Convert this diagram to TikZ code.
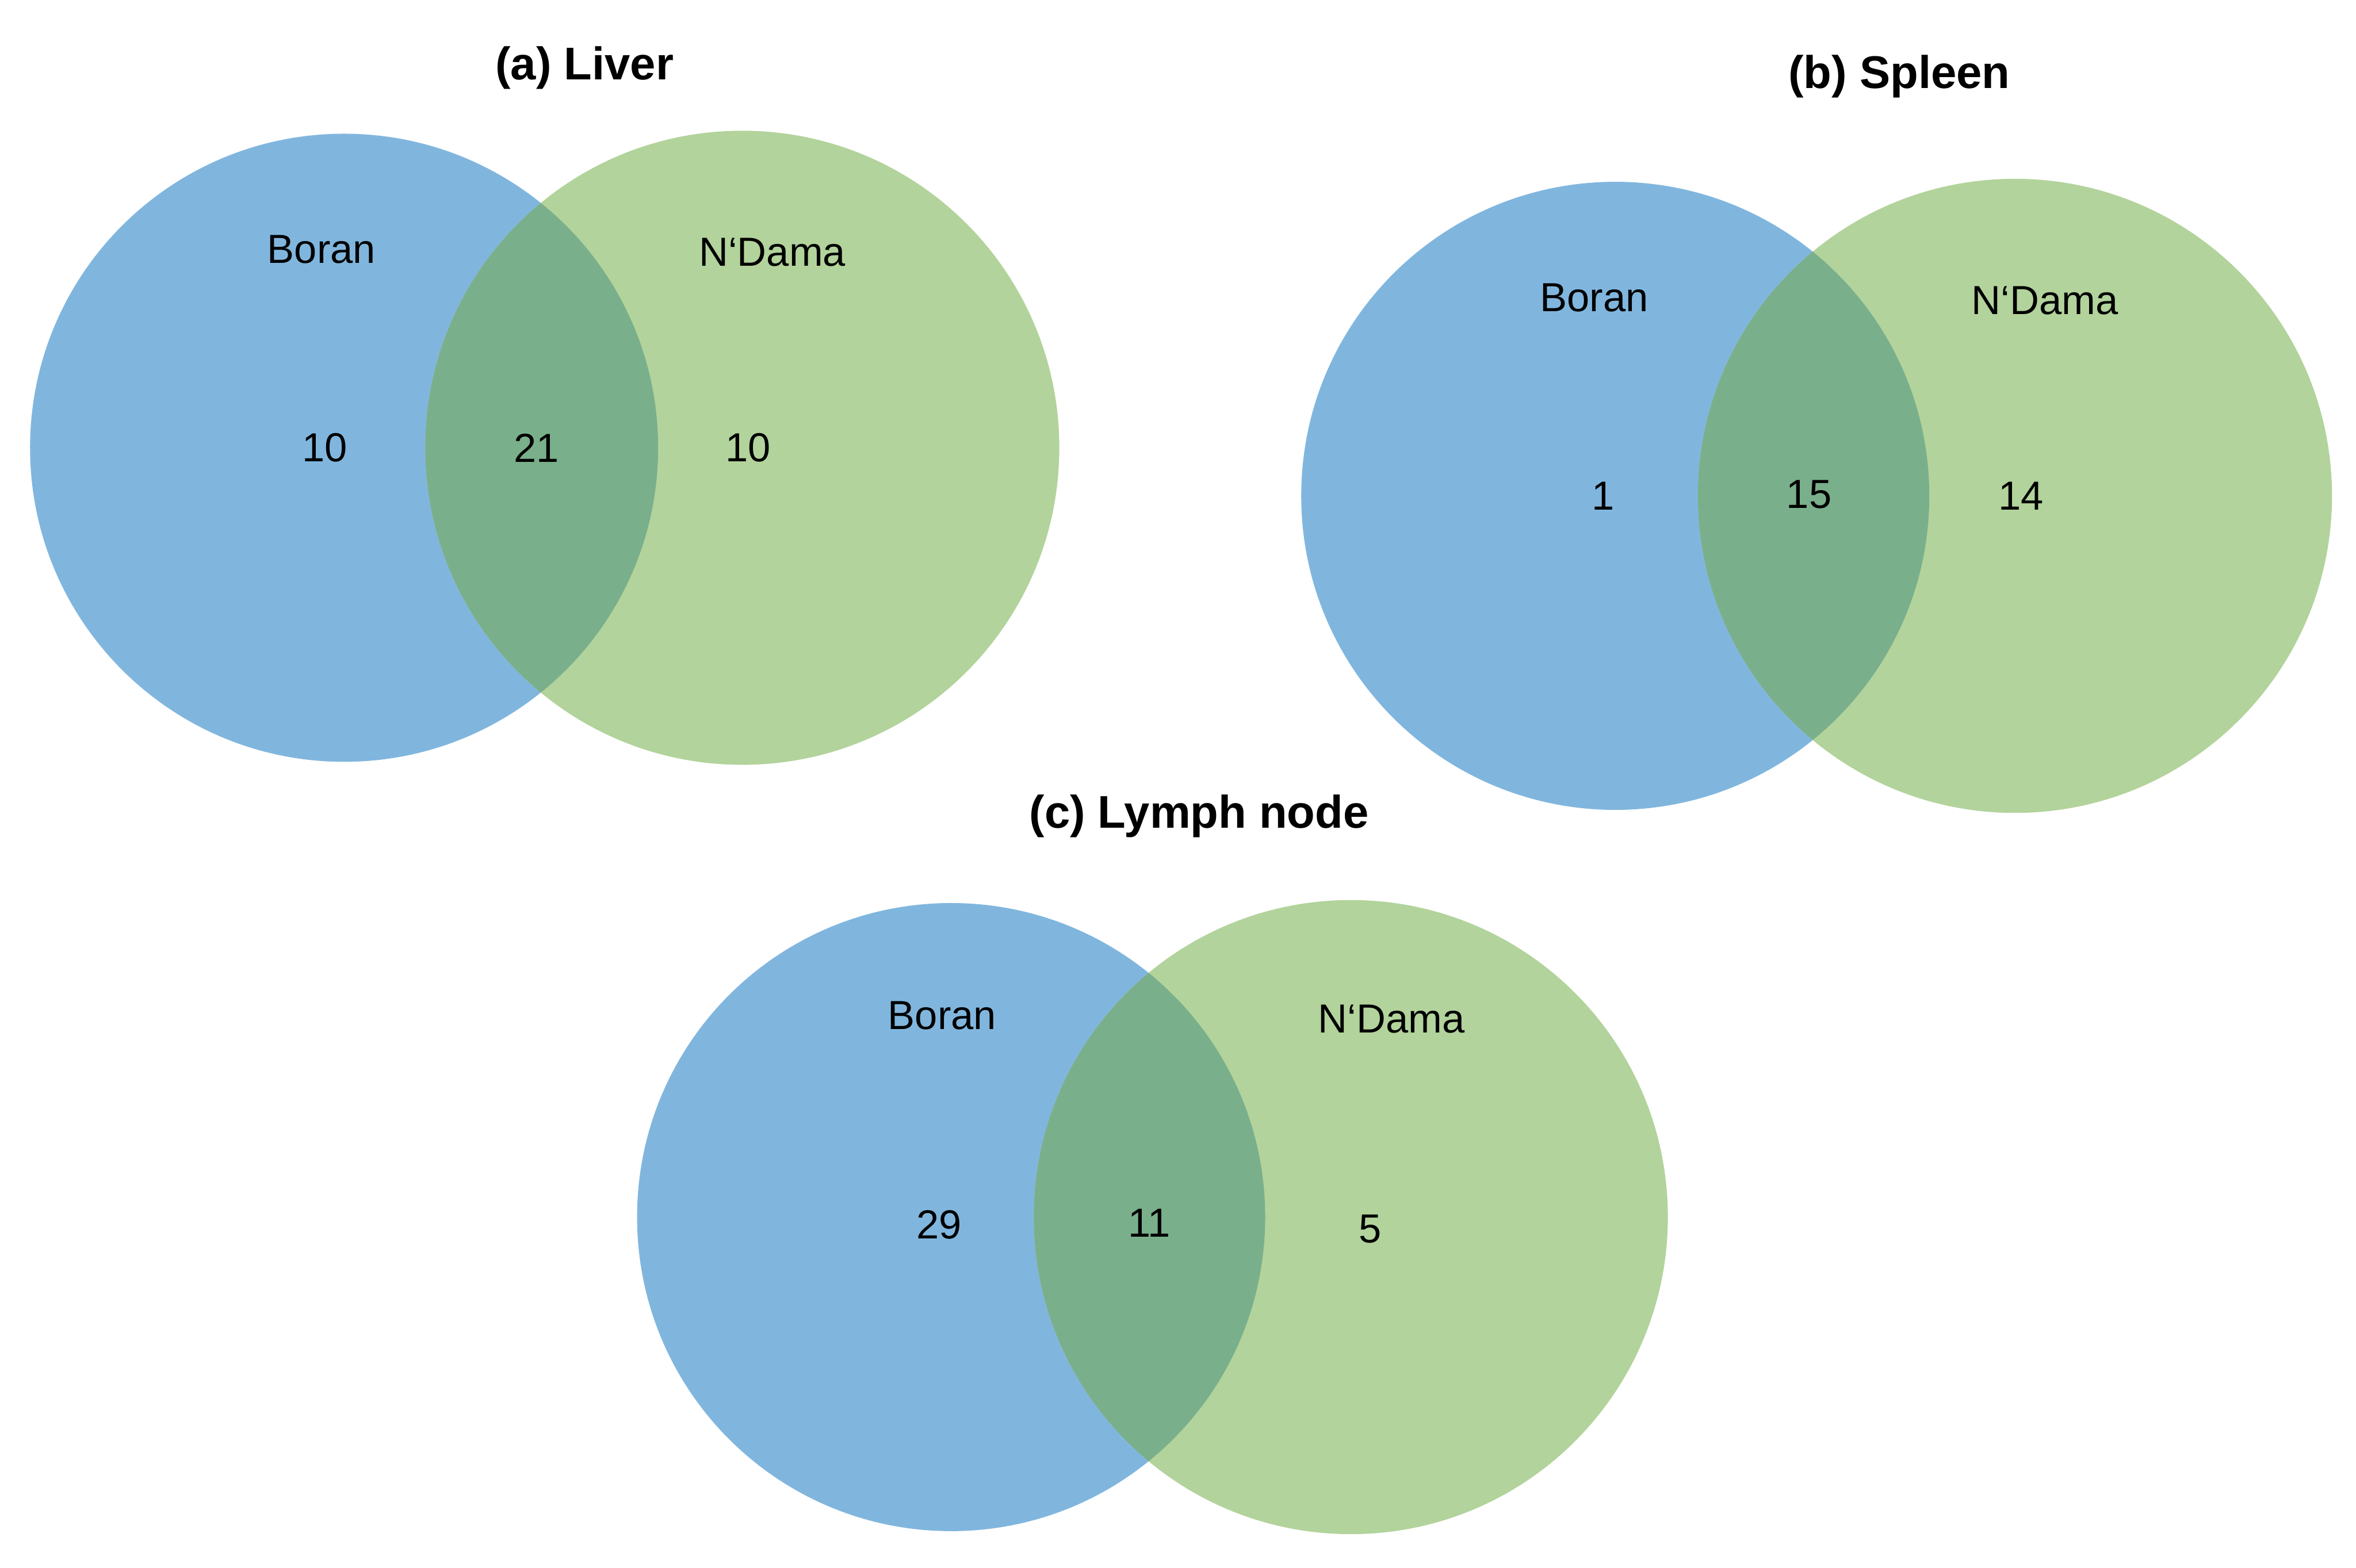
\documentclass[tikz,border=0pt]{standalone}
\usepackage{fontspec}
\setmainfont{Liberation Sans}
\definecolor{boranblue}{RGB}{128,182,222}
\definecolor{ndamagreen}{RGB}{178,211,155}
\definecolor{overlapgreen}{RGB}{122,175,140}
\newcommand\vennpair[4]{%
  \fill[boranblue] (#1,#2) circle (209pt);
  \fill[ndamagreen] (#3,#4) circle (211pt);
  \begin{scope}
    \clip (#1,#2) circle (209pt);
    \fill[overlapgreen] (#3,#4) circle (211pt);
  \end{scope}}
\begin{document}
\begin{tikzpicture}[x=1pt,y=-1pt,
  lbl/.style={font=\fontsize{27}{31}\selectfont, inner sep=0pt, anchor=center},
  ttl/.style={font=\fontsize{30.5}{34}\selectfont\bfseries, inner sep=0pt, anchor=center}]
\useasboundingbox (0,0) rectangle (1568,1043.4);
% (a) Liver
\vennpair{229}{298}{494}{298}
\node[ttl] (ta) at (389,45) {(a) Liver};
\node[lbl] (ba) at (214,166) {Boran};
\node[lbl] (na) at (514,168) {N‘Dama};
\node[lbl] (a1) at (216,298) {10};
\node[lbl] (a2) at (357,298) {21};
\node[lbl] (a3) at (498,298) {10};
% (b) Spleen
\vennpair{1075}{330}{1341}{330}
\node[ttl] (tb) at (1264,51) {(b) Spleen};
\node[lbl] (bb) at (1061,198) {Boran};
\node[lbl] (nb) at (1361,200) {N‘Dama};
\node[lbl] (b1) at (1067,330) {1};
\node[lbl] (b2) at (1204,329) {15};
\node[lbl] (b3) at (1345,330) {14};
% (c) Lymph node
\vennpair{633}{810}{899}{810}
\node[ttl] (tc) at (798,543) {(c) Lymph node};
\node[lbl] (bc) at (627,676) {Boran};
\node[lbl] (nc) at (926,678) {N‘Dama};
\node[lbl] (c1) at (625,815) {29};
\node[lbl] (c2) at (765,814) {11};
\node[lbl] (c3) at (912,818) {5};
\end{tikzpicture}
\end{document}
